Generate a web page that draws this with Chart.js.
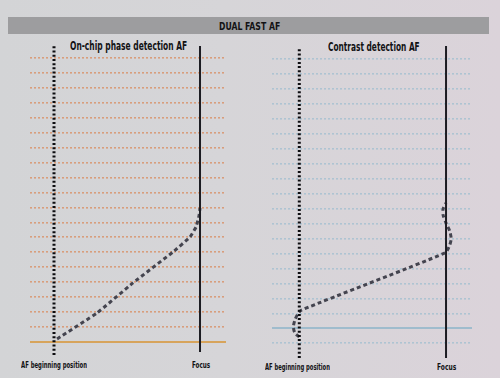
<!DOCTYPE html>
<html>
<head>
<meta charset="utf-8">
<script src="https://cdn.jsdelivr.net/npm/chart.js@4/dist/chart.umd.min.js"></script>
<style>
  html, body { margin:0; padding:0; }
  body { width:500px; height:378px; overflow:hidden; position:relative;
         background: linear-gradient(90deg, #d3d4d6 0%, #d6d5d8 45%, #dbd3da 100%); }
  #bar { position:absolute; left:8px; top:17px; width:481px; height:17px; background:#9d9d9f; }
  .txt { position:absolute; white-space:nowrap; font-family:"DejaVu Sans Condensed","DejaVu Sans",sans-serif;
         font-weight:bold; font-stretch:condensed; color:#121214; transform-origin:0 50%; line-height:1; }
  .box { position:absolute; }
</style>
</head>
<body>
<div id="bar"></div>
<div class="txt" data-cx="249" data-cy="26" data-w="61" style="font-size:11px">DUAL FAST AF</div>
<div class="txt" data-cx="128" data-cy="46" data-w="117" style="font-size:12px">On-chip phase detection AF</div>
<div class="txt" data-cx="374" data-cy="47" data-w="92" style="font-size:12px">Contrast detection AF</div>
<div class="txt" data-cx="54" data-cy="366" data-w="66" style="font-size:8px">AF beginning position</div>
<div class="txt" data-cx="201" data-cy="366" data-w="18" style="font-size:8px">Focus</div>
<div class="txt" data-cx="297" data-cy="368" data-w="65" style="font-size:8px">AF beginning position</div>
<div class="txt" data-cx="446" data-cy="368" data-w="19" style="font-size:8px">Focus</div>

<div class="box" style="left:30px; top:44px; width:196px; height:312px;"><canvas id="cLeft"></canvas></div>
<div class="box" style="left:272px; top:46px; width:200px; height:314px;"><canvas id="cRight"></canvas></div>

<script>
// ---- data ----
// horizontal guide ticks (time steps)
const leftTicks  = [0,1,2,3,4,5,6,7,8,9,10,11,12,13,14,15,16,17,18,19];
const rightTicks = [-1,0,1,2,3,4,5,6,7,8,9,10,11,12,13,14,15,16,17,18];
// lens position: 0 = AF beginning position, 1 = focus
const startLineX = [0, 0];
const focusLineX = [1, 1];
const leftStartLineT  = [-0.87, 19.87];
const leftFocusLineT  = [-0.67, 19.8];
const rightStartLineT = [-1.98, 18.82];
const rightFocusLineT = [-1.98, 18.88];
// phase detection AF trajectory
const phaseX = [0.021, 0.295, 0.541, 0.815, 0.932, 0.973, 0.993, 1.0];
const phaseT = [0.2, 1.94, 3.95, 6.02, 7.02, 7.69, 8.43, 8.96];
// contrast detection AF trajectory
const contrastX = [0.0, -0.03, -0.04, -0.03, -0.01, 0.015, 0.993, 1.02, 1.035, 1.025, 1.0, 0.98, 0.98, 1.0];
const contrastT = [-0.58, -0.31, 0.09, 0.56, 0.96, 1.22, 5.04, 5.44, 5.97, 6.51, 7.04, 7.58, 7.98, 8.38];

const pts = (xs, ys) => xs.map((x, i) => ({x: x, y: ys[i]}));

function makeChart(id, opt) {
  return new Chart(document.getElementById(id), {
    type: 'scatter',
    data: { datasets: [
      { data: pts(startLineX, opt.startT), showLine:true, pointRadius:0, borderColor:'#0d0d10',
        borderWidth:3, borderDash:[2,2.2], borderCapStyle:'butt' },
      { data: pts(focusLineX, opt.focusT), showLine:true, pointRadius:0, borderColor:'#1c1c22',
        borderWidth:2 },
      { data: pts(opt.curveX, opt.curveT), showLine:true, pointRadius:0, borderColor:opt.curveColor,
        borderWidth:3, borderDash:opt.curveDash, tension:opt.tension, borderCapStyle:'butt' }
    ]},
    options: {
      responsive:true, maintainAspectRatio:false, animation:false,
      layout:{ padding:0 },
      plugins:{ legend:{display:false}, tooltip:{enabled:false} },
      scales:{
        x:{ type:'linear', display:false, min:opt.xMin, max:opt.xMax },
        y:{ type:'linear', min:opt.yMin, max:opt.yMax,
            afterBuildTicks: s => { s.ticks = opt.ticks.map(v => ({value:v})); },
            ticks:{ display:false },
            grid:{ drawTicks:false,
                   color: c => (c.tick && c.tick.value === 0) ? opt.solidColor : opt.dotColor,
                   lineWidth: c => (c.tick && c.tick.value === 0) ? 2 : 1.6 },
            border:{ display:false,
                   dash: c => (c.tick && c.tick.value === 0) ? [] : [2,2] } }
      }
    }
  });
}

makeChart('cLeft', {
  ticks:leftTicks, startT:leftStartLineT, focusT:leftFocusLineT,
  curveX:phaseX, curveT:phaseT, curveColor:'#44444f', curveDash:[4,3], tension:0.1,
  xMin:-0.1644, xMax:1.178, yMin:-0.94, yMax:19.93,
  solidColor:'#d7a45c', dotColor:'#d89e7c'
});
makeChart('cRight', {
  ticks:rightTicks, startT:rightStartLineT, focusT:rightFocusLineT,
  curveX:contrastX, curveT:contrastT, curveColor:'#44444f', curveDash:[4,3], tension:0.25,
  xMin:-0.186, xMax:1.177, yMin:-2.12, yMax:18.88,
  solidColor:'#9fbccd', dotColor:'#aec4d2'
});

// fit condensed text labels
document.querySelectorAll('.txt').forEach(el => {
  const w = el.offsetWidth, h = el.offsetHeight;
  const target = +el.dataset.w;
  const sx = target / w;
  el.style.left = (+el.dataset.cx - target/2) + 'px';
  el.style.top = (+el.dataset.cy - h/2) + 'px';
  el.style.transform = 'scaleX(' + sx + ')';
});
</script>
</body>
</html>
